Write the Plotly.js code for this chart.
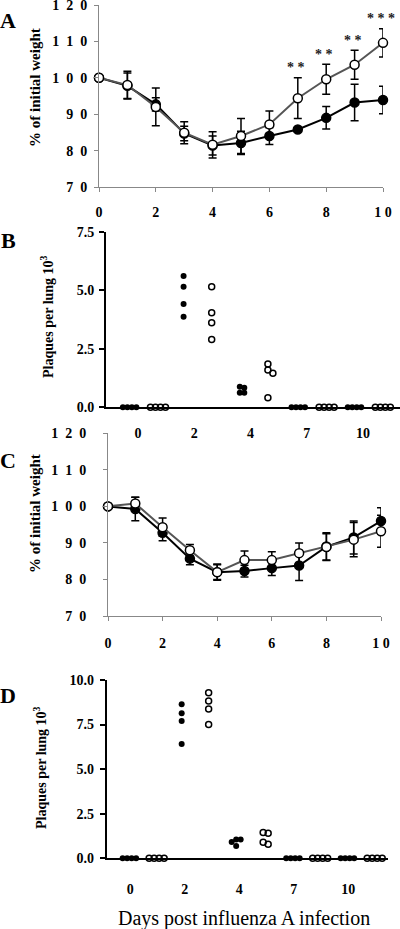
<!DOCTYPE html>
<html><head><meta charset="utf-8">
<script src="https://cdn.plot.ly/plotly-3.0.1.min.js"></script>
<style>html,body{margin:0;padding:0;background:#fff;}#chart{width:400px;height:929px;}</style>
</head><body><div id="chart"></div>
<script>
// ---------- DATA ----------
const days = [0, 1, 2, 3, 4, 5, 6, 7, 8, 9, 10];
// Panel A: % of initial weight
const aFilled    = [100, 97.8, 92.7, 84.7, 81.4, 82.1, 84.0, 85.8, 89.0, 93.2, 93.9];
const aFilledErr = [0, 3.5, 1.8, 2.0, 2.6, 3.2, 2.3, 0.5, 3.1, 5.0, 3.8];
const aOpen      = [100, 98.0, 92.0, 84.9, 81.6, 84.0, 87.2, 94.4, 99.6, 103.6, 109.6];
const aOpenErr   = [0, 3.8, 5.2, 3.0, 3.6, 4.8, 3.7, 5.6, 4.1, 4.0, 3.9];
const starDays   = [7, 8, 9, 10];
const starText   = ['* *', '* *', '* *', '* * *'];
// Panel C: % of initial weight
const cFilled    = [100, 99.3, 92.8, 85.7, 82.0, 82.3, 83.1, 83.8, 89.0, 91.5, 96.0];
const cFilledErr = [0, 3.2, 2.2, 1.7, 2.2, 1.6, 2.0, 4.1, 3.8, 4.5, 3.6];
const cOpen      = [100, 100.8, 94.3, 88.0, 82.0, 85.3, 85.3, 87.2, 88.9, 90.9, 93.2];
const cOpenErr   = [0, 1.7, 2.5, 1.6, 2.0, 2.5, 2.3, 2.8, 3.6, 4.7, 4.4];
// Panels B and D: plaques per lung (x10^3), one list per day
const plaqueDays = ['0', '2', '4', '7', '10'];
const bFilled = [[0,0,0,0], [5.61,5.15,4.41,3.87], [0.88,0.84,0.62,0.62], [0,0,0,0], [0,0,0,0]];
const bOpen   = [[0,0,0,0], [5.15,4.04,3.61,2.90], [1.85,1.59,1.45,0.41], [0,0,0,0], [0,0,0,0]];
const dFilled = [[0,0,0,0], [8.64,8.13,7.70,6.41], [1.06,1.06,0.91,0.69], [0,0,0,0], [0,0,0,0]];
const dOpen   = [[0,0,0,0], [9.29,8.82,8.37,7.51], [1.44,1.40,0.90,0.79], [0,0,0,0], [0,0,0,0]];
const weightTicks = [70, 80, 90, 100, 110, 120];
const dayTicks = [0, 2, 4, 6, 8, 10];

// ---------- LAYOUT HELPERS ----------
const W = 400, H = 929;
const SERIF = '"Liberation Serif", "Times New Roman", serif';
const dx = (a, b) => [a / W, b / W];
const dy = (top, bottom) => [1 - bottom / H, 1 - top / H];
const box = {
  A: {x: [99, 383], y: [5, 187]},
  B: {x: [106, 400], y: [231.7, 407.3]},
  C: {x: [108, 381], y: [433.3, 616]},
  D: {x: [106.7, 388], y: [680, 858.3]}
};
const bRange = [-0.57, 4.66], dRange = [-0.43, 4.73];
const bYRange = [0, 7.5], dYRange = [0, 10];
const spaced = (s, sep) => String(s).split('').join(sep);

function swarm(groups, offset, bx, xr, yr, d) {
  const ppx = (bx.x[1] - bx.x[0]) / (xr[1] - xr[0]);
  const ppy = (bx.y[1] - bx.y[0]) / (yr[1] - yr[0]);
  const xs = [], ys = [];
  groups.forEach((vals, gi) => {
    const placed = [];
    vals.forEach(v => {
      const yp = v * ppy;
      const cands = [0];
      for (let i = 1; i < 8; i++) cands.push(i * d, -i * d);
      let off = 0;
      for (const c of cands) {
        if (placed.every(p => Math.hypot(p[0] - c, p[1] - yp) >= d * 0.95)) { off = c; break; }
      }
      placed.push([off, yp]);
      xs.push(gi + offset + off / ppx);
      ys.push(v);
    });
  });
  return {x: xs, y: ys};
}

const lineTrace = (xa, ya, y, err, filled) => ({
  type: 'scatter', mode: 'lines+markers', x: days, y: y, xaxis: xa, yaxis: ya,
  cliponaxis: false,
  line: {color: filled ? '#000' : '#555', width: 2},
  marker: {symbol: 'circle', size: 9, color: filled ? '#000' : '#fff', line: {color: '#000', width: 1.5}},
  error_y: {type: 'data', array: err, visible: true, color: '#000', thickness: 1.5, width: 4}
});
const dotTrace = (xa, ya, pts, filled) => ({
  type: 'scatter', mode: 'markers', x: pts.x, y: pts.y, xaxis: xa, yaxis: ya,
  cliponaxis: false,
  marker: filled ? {symbol: 'circle', size: 6, color: '#000'}
                 : {symbol: 'circle-open', size: 6, color: '#000', line: {width: 1.5}}
});

const bF = swarm(bFilled, -0.19, box.B, bRange, bYRange, 4.5);
const bO = swarm(bOpen, 0.31, box.B, bRange, bYRange, 5);
const dF = swarm(dFilled, -0.055, box.D, dRange, dYRange, 4.5);
const dO = swarm(dOpen, 0.44, box.D, dRange, dYRange, 5);

const data = [
  lineTrace('x', 'y', aFilled, aFilledErr, true),
  lineTrace('x', 'y', aOpen, aOpenErr, false),
  dotTrace('x2', 'y2', bF, true),
  dotTrace('x2', 'y2', bO, false),
  lineTrace('x3', 'y3', cFilled, cFilledErr, true),
  lineTrace('x3', 'y3', cOpen, cOpenErr, false),
  dotTrace('x4', 'y4', dF, true),
  dotTrace('x4', 'y4', dO, false)
];

const tickFont = {family: SERIF, size: 14, color: '#000', weight: 700};
const weightX = (dom, anchor, standoff) => ({
  domain: dx(...dom), anchor: anchor, range: [0, 10], tickvals: dayTicks,
  ticktext: dayTicks.map(v => spaced(v, ' ')), ticks: 'outside', ticklen: 4, tickcolor: '#888',
  showline: true, linecolor: '#888', linewidth: 1, showgrid: false, zeroline: false,
  tickfont: tickFont, ticklabelstandoff: standoff, ticklabeloverflow: 'allow'
});
const weightY = (dom, anchor, standoff) => ({
  domain: dy(...dom), anchor: anchor, range: [70, 120], tickvals: weightTicks,
  ticktext: weightTicks.map(v => spaced(v, '\u2002')), ticks: 'outside', ticklen: 4, tickcolor: '#888',
  showline: true, linecolor: '#888', linewidth: 1, showgrid: false, zeroline: false,
  tickfont: tickFont, ticklabelstandoff: standoff, ticklabeloverflow: 'allow'
});
const plaqueX = (dom, anchor, range, standoff) => ({
  domain: dx(...dom), anchor: anchor, range: range, tickvals: plaqueDays.map((_, i) => i),
  ticktext: plaqueDays, ticks: '', showline: true, linecolor: '#000', linewidth: 2,
  showgrid: false, zeroline: false, tickfont: tickFont, ticklabelstandoff: standoff,
  ticklabeloverflow: 'allow'
});
const plaqueY = (dom, anchor, range, standoff) => ({
  domain: dy(...dom), anchor: anchor, range: range, dtick: 2.5, tick0: 0, tickformat: '.1f',
  ticks: 'outside', ticklen: 5, tickwidth: 2, tickcolor: '#000', showline: true, linecolor: '#000',
  linewidth: 2, showgrid: false, zeroline: false, tickfont: tickFont, ticklabelstandoff: standoff,
  ticklabeloverflow: 'allow'
});

const ann = [];
const letter = (t, x, y) => ann.push({text: t, xref: 'paper', yref: 'paper', x: x / W, y: 1 - y / H,
  xanchor: 'center', yanchor: 'middle', showarrow: false, font: {family: SERIF, size: 22, color: '#000', weight: 700}});
letter('A', 8, 20); letter('B', 8, 240); letter('C', 8, 460); letter('D', 8, 695);
const ytitle = (t, x, y, size) => ann.push({text: t, xref: 'paper', yref: 'paper', x: x / W, y: 1 - y / H,
  xanchor: 'center', yanchor: 'middle', textangle: -90, showarrow: false,
  font: {family: SERIF, size: size, color: '#000', weight: 700}});
ytitle('% of initial weight', 35, 88, 15);
ytitle('% of initial weight', 35, 514, 15);
ytitle('Plaques per lung 10<sup>3</sup>', 47, 317, 14);
ytitle('Plaques per lung 10<sup>3</sup>', 40, 768, 14);
starDays.forEach((d, i) => {
  const k = days.indexOf(d);
  ann.push({text: starText[i], xref: 'x', yref: 'y', x: d, y: aOpen[k] + aOpenErr[k], yshift: 10, xshift: -2,
    xanchor: 'center', yanchor: 'middle', showarrow: false,
    font: {family: SERIF, size: 14, color: '#222', weight: 700}});
});
ann.push({text: 'Days post influenza A infection', xref: 'paper', yref: 'paper', x: 244 / W, y: 1 - 918 / H,
  xanchor: 'center', yanchor: 'middle', showarrow: false, font: {family: SERIF, size: 20, color: '#000'}});

const layout = {
  width: W, height: H, margin: {l: 0, r: 0, t: 0, b: 0}, showlegend: false,
  paper_bgcolor: '#fff', plot_bgcolor: '#fff',
  xaxis: weightX(box.A.x, 'y', 8), yaxis: weightY(box.A.y, 'x', 4),
  xaxis2: plaqueX(box.B.x, 'y2', bRange, 12), yaxis2: plaqueY(box.B.y, 'x2', bYRange, 2),
  xaxis3: weightX(box.C.x, 'y3', 10), yaxis3: weightY(box.C.y, 'x3', 14),
  xaxis4: plaqueX(box.D.x, 'y4', dRange, 17), yaxis4: plaqueY(box.D.y, 'x4', dYRange, 3),
  annotations: ann
};
Plotly.newPlot('chart', data, layout, {staticPlot: true, displayModeBar: false});
</script></body></html>
